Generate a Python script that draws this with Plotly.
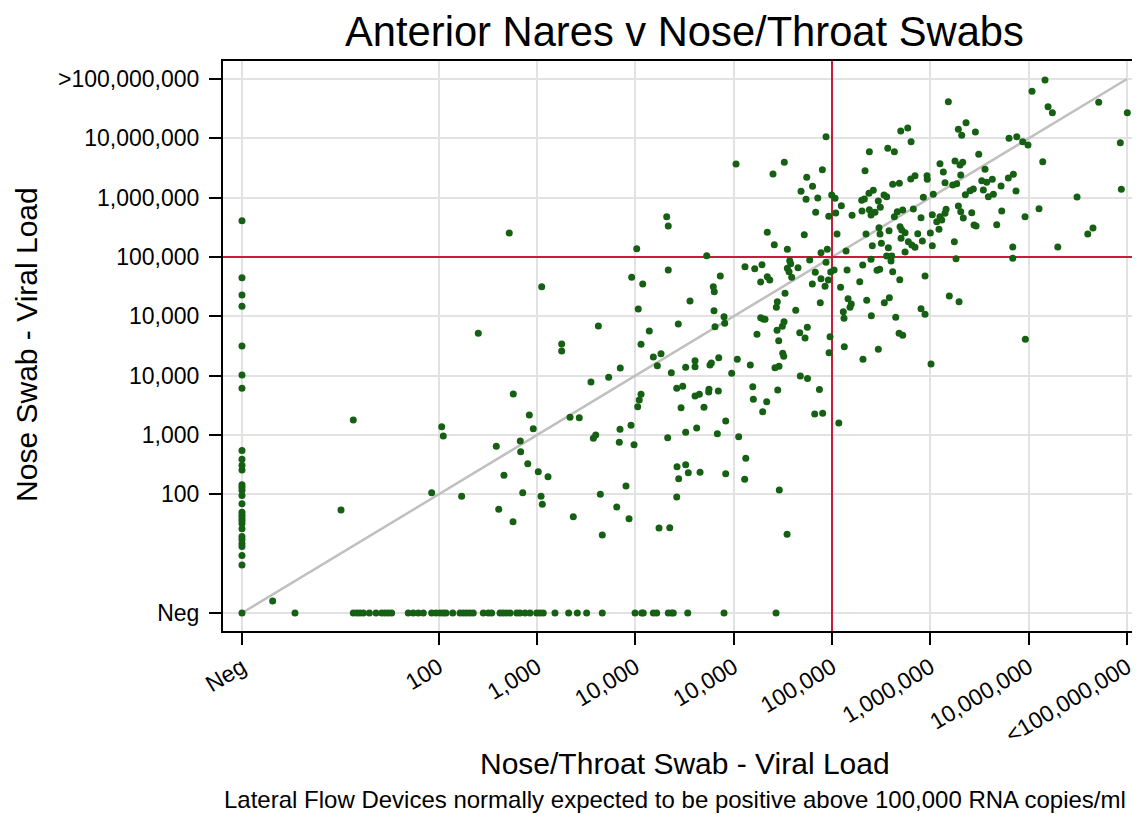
import numpy as np
import plotly.graph_objects as go

# ---- Data (log10 RNA copies/ml; 0 == "Neg") ----
# Nose swab positive, nose/throat swab negative (x = Neg)
neg_x_nose_log = [6.61, 5.65, 5.36, 5.17, 4.50, 4.01, 3.79, 2.74, 2.59, 2.49, 2.41, 2.16,
                  2.12, 2.07, 1.98, 1.84, 1.70, 1.65, 1.60, 1.56, 1.51, 1.42, 1.29, 1.24,
                  1.17, 1.12, 0.97, 0.81, 0.0]
# Nose/throat swab positive, nose swab negative (y = Neg)
neg_y_nt_log = [0.539, 1.132, 1.170, 1.200, 1.234, 1.295, 1.363, 1.421, 1.454, 1.488, 1.522,
                1.691, 1.742, 1.793, 1.844, 1.929, 1.973, 2.014, 2.047, 2.075, 2.143, 2.217,
                2.251, 2.285, 2.319, 2.352, 2.454, 2.505, 2.539, 2.624, 2.657, 2.692, 2.726,
                2.794, 2.827, 2.878, 2.929, 2.997, 3.031, 3.064, 3.183, 3.322, 3.410, 3.505,
                3.664, 3.997, 4.065, 4.081, 4.183, 4.217, 4.335, 4.370, 4.386, 4.533, 4.902,
                5.431]

# Both positive: nose/throat (x) and nose (y)
nt_log = [
    0.312, 1.132, 1.007,
    2.718, 3.048, 2.403, 3.624, 3.251, 3.251, 2.759, 3.549, 3.729, 3.847, 2.922, 3.336, 3.430,
    2.962, 2.031, 2.047, 3.573, 3.597, 3.844, 3.837, 2.586, 2.830, 2.834, 2.906, 2.664, 3.013,
    3.112, 1.929, 2.234, 2.855, 3.041, 3.054, 2.611, 2.756, 3.644, 3.905, 3.811, 3.936, 3.369,
    3.664,
    5.024, 4.319, 4.335, 4.014, 4.726, 3.963, 4.075, 4.335, 5.115, 5.214, 5.288, 5.275, 4.864,
    4.793, 4.803, 4.556, 4.030, 4.800, 4.902, 4.909, 4.810, 4.437, 4.142, 4.058, 5.275, 5.301,
    5.237, 4.183, 4.261, 4.224, 4.366, 4.512, 4.607, 4.607, 4.759, 4.773, 4.848, 5.037, 4.980,
    5.169, 4.421, 4.482, 4.607, 4.651, 4.749, 4.746, 4.844, 4.465, 4.698, 4.058, 4.040, 4.024,
    5.194, 5.200, 5.336, 5.295, 5.448, 3.956, 3.987, 4.329, 4.512, 4.624, 4.834, 4.919, 5.051,
    5.123, 5.112, 4.424, 4.512, 4.539, 4.658, 4.441, 4.919, 4.421, 5.464, 4.241, 4.350,
    5.678, 5.751, 5.872, 5.824, 5.905, 6.069, 5.543,
    5.939, 6.699, 6.380, 6.567, 6.634, 5.515, 5.400, 5.902, 6.336, 5.743, 5.802, 5.685, 5.736,
    5.855, 5.997, 6.031, 6.095, 5.834, 5.967, 6.038, 6.204, 6.302, 6.329, 6.376, 6.420, 6.471,
    6.529, 6.556, 6.617, 6.685, 6.305, 6.380, 6.397, 6.437, 6.491, 6.634, 6.664, 6.719, 6.692,
    5.342, 5.718, 6.051, 5.413, 5.546, 6.346, 6.478, 6.488, 6.580, 6.502, 6.573, 6.709, 6.702,
    5.888, 5.952, 6.143, 6.410, 5.570, 5.580, 5.546, 5.563, 5.654, 5.773, 5.939, 5.342, 5.367,
    5.590, 5.830, 5.888, 5.963, 5.987, 6.021, 6.153, 6.312, 6.397, 6.556, 6.607, 6.600, 6.617,
    6.458, 6.485, 5.800, 5.929, 6.087, 6.282, 6.689, 5.522, 5.444, 5.434, 5.631, 5.881, 6.163,
    6.196, 6.183, 6.115, 6.122, 6.353, 6.532, 6.583, 6.400, 6.648, 5.319, 5.512, 5.495, 5.441,
    5.749, 5.672, 5.726, 5.458, 5.980, 6.682, 6.719, 5.499, 5.509, 5.461, 5.420, 5.970, 6.125,
    6.471, 6.315,
    7.183, 7.363, 7.285, 7.319, 7.458, 6.770, 6.804, 7.492, 7.098, 7.251, 7.302, 7.329, 7.132,
    7.309, 7.556, 6.966, 6.969, 6.844, 6.801, 7.149, 7.268, 7.228, 7.523, 7.573, 7.630, 7.719,
    7.793, 6.929, 7.030, 7.356, 7.404, 7.437, 7.539, 7.590, 7.641, 6.827, 7.285, 7.160, 7.149,
    7.309, 7.421, 7.726, 6.905, 7.020, 7.098, 7.116, 7.065, 7.335, 7.444, 7.465, 7.675, 6.743,
    6.872, 7.000, 7.088, 6.776, 6.919, 6.811, 6.844, 7.020, 7.244, 6.743, 7.261, 6.946, 7.193,
    7.292, 6.905, 6.946, 7.007,
    8.166, 8.034, 8.712, 8.197, 8.241, 9.003, 7.800, 7.879, 7.939, 7.993, 8.932, 8.143, 7.844,
    7.871, 8.942, 8.492, 7.963, 8.105, 8.654, 8.601, 7.838, 8.296, 7.838, 7.966,
]
nose_log = [
    0.202, 3.253, 1.736,
    6.405, 5.500, 4.714, 4.837, 4.534, 4.416, 3.691, 3.893, 3.973, 4.129, 3.337, 3.298, 3.292,
    3.106, 3.140, 2.983, 2.945, 3.000, 3.096, 2.877, 2.810, 2.899, 2.719, 2.516, 2.321, 2.382,
    2.297, 2.028, 1.967, 2.028, 1.967, 1.832, 1.748, 1.539, 2.001, 2.141, 1.787, 1.589, 1.623,
    1.315,
    7.568, 6.680, 6.523, 6.140, 6.022, 5.658, 5.545, 5.781, 5.837, 5.803, 5.871, 5.579, 5.680,
    5.500, 5.416, 5.259, 5.124, 5.095, 4.994, 4.883, 4.826, 4.871, 4.753, 4.529, 4.977, 4.955,
    4.697, 4.315, 4.370, 4.168, 4.050, 4.141, 4.252, 4.151, 4.180, 4.214, 4.303, 4.276, 4.040,
    4.180, 3.787, 3.821, 3.657, 3.686, 3.770, 3.725, 3.742, 3.460, 3.467, 3.686, 3.590, 3.477,
    3.814, 3.602, 3.561, 3.393, 3.759, 3.164, 2.837, 2.955, 3.046, 3.118, 3.022, 3.236, 2.971,
    2.607, 2.253, 2.466, 2.500, 2.365, 2.371, 2.264, 2.348, 1.955, 2.073, 1.433, 1.438,
    3.995, 3.951, 3.769, 3.356, 3.368, 3.204, 1.328,
    8.028, 8.124, 7.775, 7.832, 7.775, 7.596, 7.399, 7.472, 7.455, 7.344, 7.195, 7.108, 6.973,
    6.995, 7.045, 6.990, 6.865, 6.754, 6.686, 6.742, 6.703, 6.956, 6.978, 7.074, 7.125, 6.944,
    7.045, 7.017, 7.226, 7.243, 6.776, 6.798, 6.708, 6.754, 6.838, 6.680, 6.764, 6.793, 6.511,
    6.417, 6.376, 6.388, 6.208, 6.130, 6.388, 6.494, 6.388, 6.444, 6.231, 6.157, 6.455, 6.315,
    6.073, 6.130, 6.102, 6.191, 5.938, 5.887, 5.810, 5.753, 5.820, 5.950, 5.911, 5.668, 5.613,
    5.658, 5.742, 5.635, 5.613, 5.748, 5.781, 5.781, 5.865, 5.961, 6.017, 6.017, 5.933, 5.753,
    5.776, 5.793, 5.545, 5.506, 5.490, 5.584, 5.618, 5.388, 5.247, 5.153, 5.102, 5.230, 5.297,
    5.208, 5.153, 5.078, 4.967, 5.270, 5.230, 5.314, 5.011, 4.984, 4.950, 4.910, 4.832, 4.765,
    4.815, 4.724, 4.635, 4.590, 4.657, 4.714, 4.681, 4.377, 4.327, 4.158, 4.134, 4.387, 4.488,
    4.445, 4.276,
    8.618, 8.264, 8.153, 8.052, 8.107, 8.175, 7.944, 7.731, 7.573, 7.618, 7.551, 7.596, 7.433,
    7.382, 7.478, 7.371, 7.310, 7.371, 7.315, 7.253, 7.236, 7.214, 7.286, 7.259, 7.310, 7.197,
    7.332, 7.006, 7.057, 7.050, 7.118, 7.146, 7.130, 7.017, 7.057, 6.809, 6.860, 6.804, 6.737,
    6.764, 6.747, 6.776, 6.663, 6.713, 6.680, 6.624, 6.595, 6.658, 6.540, 6.523, 6.545, 6.410,
    6.393, 6.405, 6.467, 6.258, 6.270, 6.203, 6.164, 6.191, 6.258, 6.085, 5.972, 5.680, 5.343,
    5.247, 5.129, 5.034, 4.197,
    8.984, 8.793, 8.608, 8.534, 8.432, 8.432, 8.001, 8.028, 7.944, 7.888, 7.927, 7.607, 7.394,
    7.113, 7.141, 7.012, 6.680, 6.815, 6.489, 6.388, 6.169, 6.169, 5.978, 4.613,
]

tick_logs = [0, 2, 3, 4, 5, 6, 7, 8, 9]
x_tick_labels = ["Neg", "100", "1,000", "10,000", "10,000", "100,000", "1,000,000",
                 "10,000,000", "<100,000,000"]
y_tick_labels = ["Neg", "100", "1,000", "10,000", "10,000", "100,000", "1,000,000",
                 "10,000,000", ">100,000,000"]
lfd_threshold_log = 6
identity_line_log = [0, 9]

# ---- Assemble ----
x_all = [0.0] * len(neg_x_nose_log) + neg_y_nt_log + nt_log
y_all = neg_x_nose_log + [0.0] * len(neg_y_nt_log) + nose_log
x_vals = 10 ** np.array(x_all)
y_vals = 10 ** np.array(y_all)

FONT = "Liberation Sans, Arial, Helvetica, sans-serif"
GREEN = "rgb(22,96,20)"
RED = "rgb(200,28,60)"

fig = go.Figure()
idv = [10 ** v for v in identity_line_log]
fig.add_trace(go.Scatter(x=idv, y=idv, mode="lines",
                         line=dict(color="rgb(192,192,192)", width=2.5),
                         hoverinfo="skip", showlegend=False))
thr = 10 ** lfd_threshold_log
fig.add_trace(go.Scatter(x=[thr, thr], y=[10 ** -1, 10 ** 10], mode="lines",
                         line=dict(color=RED, width=2), hoverinfo="skip", showlegend=False))
fig.add_trace(go.Scatter(x=[10 ** -1, 10 ** 10], y=[thr, thr], mode="lines",
                         line=dict(color=RED, width=2), hoverinfo="skip", showlegend=False))
fig.add_trace(go.Scatter(x=x_vals, y=y_vals, mode="markers",
                         marker=dict(color=GREEN, size=7, line=dict(width=0)),
                         showlegend=False, cliponaxis=False))

fig.update_xaxes(type="log", range=[-0.193, 9.132], automargin=False,
                 tickvals=[10 ** v for v in tick_logs], ticktext=x_tick_labels,
                 tickangle=-31, ticks="outside", ticklen=12, tickwidth=1.5,
                 tickcolor="black", showline=True, linecolor="black", linewidth=2,
                 mirror=True, showgrid=True, gridcolor="rgb(226,226,226)", gridwidth=2,
                 zeroline=False, tickfont=dict(family=FONT, size=23, color="black"))
fig.update_yaxes(type="log", range=[-0.303, 9.304], automargin=False,
                 tickvals=[10 ** v for v in tick_logs], ticktext=y_tick_labels,
                 ticks="outside", ticklen=12, tickwidth=1.5, tickcolor="black",
                 showline=True, linecolor="black", linewidth=2,
                 showgrid=True, gridcolor="rgb(226,226,226)", gridwidth=2,
                 zeroline=False, ticklabelstandoff=5,
                 tickfont=dict(family=FONT, size=23, color="black"))

# page body has an 8px margin, so the figure is drawn 8px in from the corner
fig.update_layout(
    width=1132, height=806,
    margin=dict(l=215, r=0, t=53, b=183),
    paper_bgcolor="white", plot_bgcolor="white",
    showlegend=False,
    annotations=[
        dict(text="Anterior Nares v Nose/Throat Swabs", xref="paper", yref="paper",
             x=0.5038, y=1.0526, xanchor="center", yanchor="middle", showarrow=False,
             font=dict(family=FONT, size=41.7, color="black")),
        dict(text="Nose Swab - Viral Load", xref="paper", yref="paper",
             x=-0.2137, y=0.502, xanchor="center", yanchor="middle", textangle=-90,
             showarrow=False, font=dict(family=FONT, size=30, color="black")),
        dict(text="Nose/Throat Swab - Viral Load", xref="paper", yref="paper",
             x=0.5038, y=-0.2316, xanchor="center", yanchor="middle", showarrow=False,
             font=dict(family=FONT, size=30, color="black")),
        dict(text="Lateral Flow Devices normally expected to be positive above 100,000 RNA copies/ml",
             xref="paper", yref="paper", x=0.9869, y=-0.2948, xanchor="right", yanchor="middle",
             showarrow=False, font=dict(family=FONT, size=24, color="black")),
    ],
)

fig.write_html("out.html")
